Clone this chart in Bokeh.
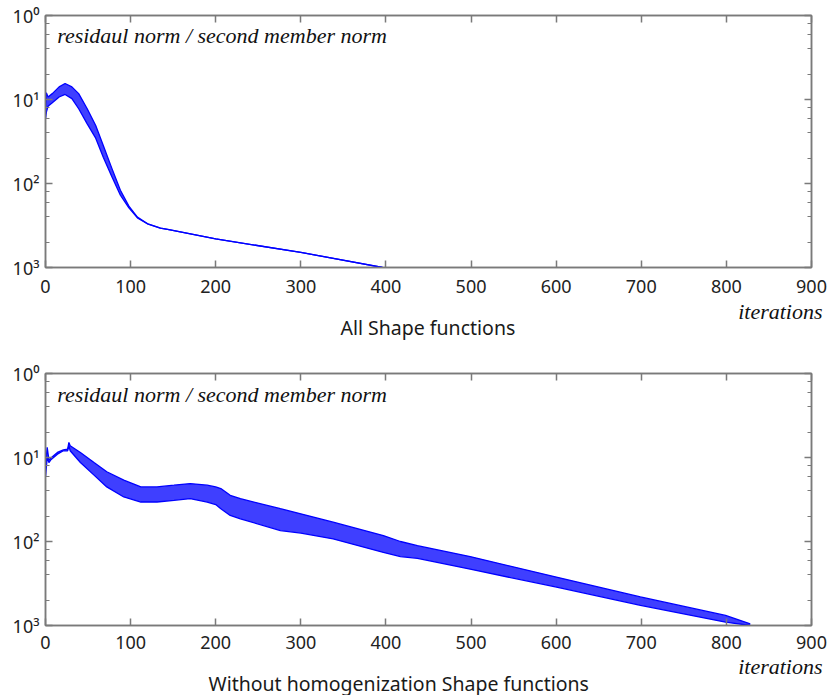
import numpy as np
from bokeh.plotting import figure
from bokeh.models import (Range1d, LinearAxis, LogAxis, FixedTicker, LogTicker,
                          CustomJSTickFormatter, Label, Title, ColumnDataSource)
from bokeh.layouts import column
from bokeh.embed import file_html
from bokeh.resources import INLINE

# ---- data (residual exponents, log10) ----
x_ticks = [0, 100, 200, 300, 400, 500, 600, 700, 800, 900]

top_iter = [0, 1, 3, 8, 16, 23, 31, 39, 49, 59, 68, 78, 88, 98, 108, 120, 135, 145, 200, 300, 396]
top_upper_exp = [-1.10, -0.92, -0.97, -0.93, -0.85, -0.81, -0.85, -0.93, -1.11, -1.31, -1.55, -1.82,
                 -2.08, -2.27, -2.40, -2.48, -2.53, -2.55, -2.66, -2.82, -3.00]
top_lower_exp = [-1.23, -1.15, -1.08, -1.04, -0.97, -0.94, -0.99, -1.11, -1.29, -1.46, -1.69, -1.92,
                 -2.14, -2.29, -2.41, -2.48, -2.53, -2.55, -2.66, -2.82, -3.00]

bot_iter = [0, 2, 4, 6, 14, 21, 26, 27.5, 29, 41, 57, 72, 92, 112, 131, 151, 170, 190, 200, 206,
            217, 229, 276, 300, 338, 397, 417, 437, 499, 599, 699, 799, 828]
bot_upper_exp = [-1.10, -0.88, -1.03, -1.01, -0.94, -0.91, -0.90, -0.82, -0.86, -0.94, -1.06, -1.17,
                 -1.27, -1.35, -1.35, -1.33, -1.31, -1.33, -1.35, -1.37, -1.45, -1.49, -1.61, -1.67,
                 -1.77, -1.93, -2.00, -2.05, -2.18, -2.42, -2.66, -2.88, -2.98]
bot_lower_exp = [-1.23, -1.00, -1.06, -1.03, -0.96, -0.92, -0.92, -0.86, -0.92, -1.06, -1.21, -1.35,
                 -1.47, -1.53, -1.53, -1.51, -1.49, -1.53, -1.56, -1.61, -1.69, -1.73, -1.87, -1.90,
                 -1.97, -2.13, -2.18, -2.20, -2.33, -2.54, -2.76, -2.96, -3.00]

caption = "residaul norm / second member norm"
titles = ["All Shape functions", "Without homogenization Shape functions"]

AX = "#7a7a7a"
BLUE = "#0000ff"


def panel(iters, up, lo, mbt, mbb, cap_exp, title, title_left, axis_standoff,
          it_standoff, title_standoff):
    src = ColumnDataSource(dict(x=iters,
                                up=[10 ** v for v in up],
                                lo=[10 ** v for v in lo]))
    p = figure(frame_width=766, frame_height=252, x_range=Range1d(0, 900),
               y_range=Range1d(1e-3, 1), y_axis_type="log", output_backend="svg",
               toolbar_location=None, min_border_left=45, min_border_right=16,
               min_border_top=mbt, min_border_bottom=mbb, background_fill_color="white")
    p.grid.visible = False
    p.outline_line_color = AX
    p.outline_line_width = 1.5

    bottom_ax = p.below[0]
    left_ax = p.left[0]
    bottom_ax.ticker = FixedTicker(ticks=x_ticks, minor_ticks=[])
    left_ax.ticker = LogTicker()
    left_ax.formatter = CustomJSTickFormatter(code="""
        const e = Math.round(-Math.log10(tick));
        const sup = {0: '\u2070', 1: '\u00b9', 2: '\u00b2', 3: '\u00b3'};
        return '10' + (sup[e] ?? '');
    """)

    top_ax = LinearAxis(ticker=FixedTicker(ticks=x_ticks, minor_ticks=[]))
    right_ax = LogAxis(ticker=LogTicker())
    for ax in [top_ax, right_ax]:
        ax.major_label_text_font_size = "1px"
        ax.major_label_text_alpha = 0
        ax.major_label_standoff = 0
    p.add_layout(top_ax, "above")
    p.add_layout(right_ax, "right")

    for ax in [bottom_ax, left_ax, top_ax, right_ax]:
        ax.axis_line_color = AX
        ax.axis_line_width = 1.5
        ax.major_tick_line_color = AX
        ax.major_tick_line_width = 1.5
        ax.minor_tick_line_color = AX
        ax.minor_tick_line_width = 1
        ax.major_tick_in = 7
        ax.major_tick_out = 0
        ax.minor_tick_in = 4
        ax.minor_tick_out = 0
    for ax in [bottom_ax, left_ax]:
        ax.major_label_text_font = "Noto Sans"
        ax.major_label_text_color = "#222222"
        ax.major_label_text_font_size = "18px"
    bottom_ax.major_label_standoff = axis_standoff
    left_ax.major_label_standoff = 6

    p.varea(x="x", y1="lo", y2="up", source=src, fill_color="#2424ff", fill_alpha=0.88)
    p.line(x="x", y="up", source=src, line_color=BLUE, line_width=1.3)
    p.line(x="x", y="lo", source=src, line_color=BLUE, line_width=1.3)

    p.add_layout(Label(x=13.7, y=10 ** cap_exp, text=caption, text_font="Liberation Serif",
                       text_font_style="italic", text_font_size="22px", text_color="#111111",
                       text_baseline="alphabetic", text_align="left"))
    p.add_layout(Title(text="iterations", align="right", offset=-11, standoff=it_standoff,
                       text_font="Liberation Serif", text_font_style="italic",
                       text_font_size="22px", text_color="#111111"),
                 "below")
    p.add_layout(Title(text=title, align="left", offset=title_left, standoff=title_standoff,
                       text_font="Noto Sans", text_font_size="19.5px", text_color="#1a1a1a",
                       text_font_style="normal"),
                 "below")
    return p


p1 = panel(top_iter, top_upper_exp, top_lower_exp, 15, 78, -0.238, titles[0], 295, 12, 3, -28)
p2 = panel(bot_iter, bot_upper_exp, bot_lower_exp, 28, 70, -0.25, titles[1], 163, 10, 0, -36)

layout = column(p1, p2, spacing=0)
with open("out.html", "w", encoding="utf-8") as f:
    f.write(file_html(layout, INLINE))
